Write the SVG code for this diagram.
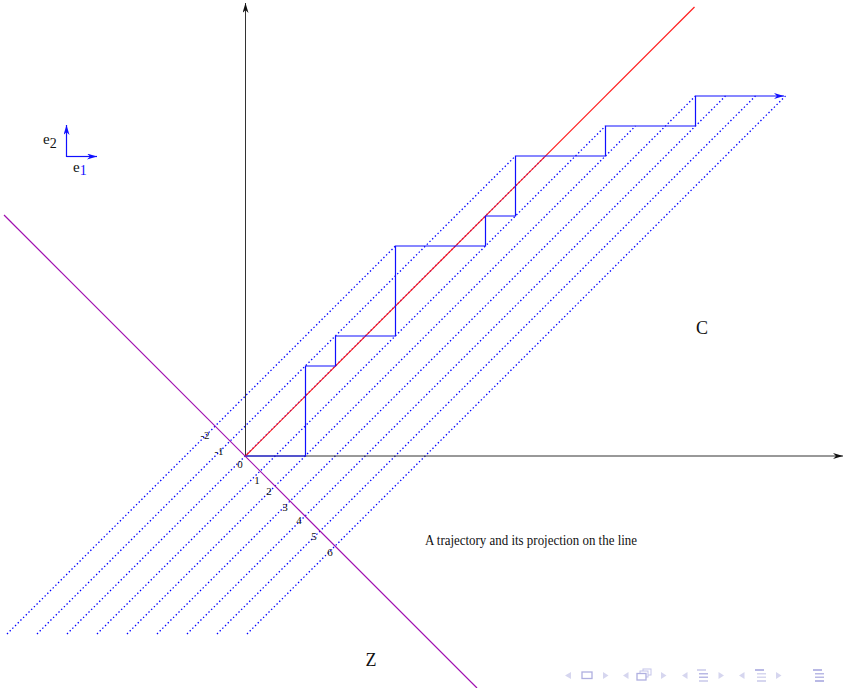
<svg xmlns="http://www.w3.org/2000/svg" width="846" height="688" viewBox="0 0 846 688">
<style>
.ax{stroke:#333;stroke-width:1;fill:none}
.dot{stroke:#0000ff;stroke-width:1.3;stroke-dasharray:1.4 2.4;fill:none}
.traj{stroke:#1010ff;stroke-width:1.2;fill:none}
.lbl{font-family:"Liberation Serif","Times New Roman",serif;font-size:11px;fill:#111}
.big{font-family:"Liberation Serif","Times New Roman",serif;font-size:18px;fill:#111}
.ev{font-family:"Liberation Serif","Times New Roman",serif;font-size:15px;fill:#111}
.navt{fill:#d6d6ef}
.navb{fill:#b9b9e5}
</style>
<defs>
<marker id="ak" viewBox="0 0 10 6" refX="10" refY="3" markerWidth="10" markerHeight="6" orient="auto" markerUnits="userSpaceOnUse"><path d="M0,0 L10,3 L0,6 L3,3 z" fill="#111"/></marker>
<marker id="ab" viewBox="0 0 10 6" refX="10" refY="3" markerWidth="10" markerHeight="6" orient="auto" markerUnits="userSpaceOnUse"><path d="M0,0 L10,3 L0,6 L3,3 z" fill="#1010ff"/></marker>
</defs>
<rect width="846" height="688" fill="#fff"/>
<g id="connectors">
<g id="projections">
<line class="dot" x1="7" y1="634" x2="395.5" y2="246"/>
<line class="dot" x1="37" y1="634" x2="515.5" y2="156"/>
<line class="dot" x1="67" y1="634" x2="545.5" y2="156"/>
<line class="dot" x1="97" y1="634" x2="605.5" y2="126"/>
<line class="dot" x1="127" y1="634" x2="635.5" y2="126"/>
<line class="dot" x1="157" y1="634" x2="695.5" y2="96"/>
<line class="dot" x1="187" y1="634" x2="725.5" y2="96"/>
<line class="dot" x1="217" y1="634" x2="755.5" y2="96"/>
<line class="dot" x1="247" y1="634" x2="785.5" y2="96"/>
</g>
<line id="axis-x" class="ax" x1="245.5" y1="456" x2="843" y2="456" marker-end="url(#ak)"/>
<line id="axis-y" class="ax" x1="245.5" y1="456" x2="245.5" y2="3" marker-end="url(#ak)"/>
<line id="line-z" x1="4" y1="215" x2="477" y2="688" stroke="#a010b0" stroke-width="1.2"/>
<line id="diagonal" x1="245.5" y1="456" x2="694.5" y2="7" stroke="#ff2020" stroke-width="1.2"/>
<path id="trajectory" class="traj" d="M245.5,456 H305.5 V366 H335.5 V336 H395.5 V246 H485.5 V216 H515.5 V156 H605.5 V126 H695.5 V96 H784" marker-end="url(#ab)"/>
</g>
<g id="legend">
<line x1="66.5" y1="157" x2="66.5" y2="125" stroke="#1010ff" stroke-width="1.2" marker-end="url(#ab)"/>
<line x1="66.5" y1="156.5" x2="97" y2="156.5" stroke="#1010ff" stroke-width="1.2" marker-end="url(#ab)"/>
<text class="ev" x="43" y="144">e<tspan font-size="14" dy="4">2</tspan></text>
<text class="ev" x="73" y="172">e<tspan font-size="14" dy="3" fill="#1010ff">1</tspan></text>
</g>
<g id="ticks">
<text class="lbl" x="205" y="439" text-anchor="middle">-2</text>
<text class="lbl" x="219" y="455" text-anchor="middle">-1</text>
<text class="lbl" x="240" y="468" text-anchor="middle">0</text>
<text class="lbl" x="257" y="484" text-anchor="middle">1</text>
<text class="lbl" x="269" y="495" text-anchor="middle">2</text>
<text class="lbl" x="285" y="511" text-anchor="middle">3</text>
<text class="lbl" x="299" y="524" text-anchor="middle">4</text>
<text class="lbl" x="314" y="540" text-anchor="middle">5</text>
<text class="lbl" x="330" y="556" text-anchor="middle">6</text>
</g>
<g id="label-c"><text class="big" x="702" y="334" text-anchor="middle">C</text></g>
<g id="label-z"><text class="big" x="371" y="666" text-anchor="middle">Z</text></g>
<g id="caption"><text x="425" y="544.5" font-family="'Liberation Serif','Times New Roman',serif" font-size="15" fill="#111" textLength="212" lengthAdjust="spacingAndGlyphs">A trajectory and its projection on the line</text></g>
<g id="nav">
<polygon class="navt" points="565,675.5 571,672 571,679"/>
<rect x="582" y="672" width="10" height="6.5" fill="none" stroke="#b0b0e0" stroke-width="1.3"/>
<polygon class="navt" points="603,672 608.5,675.5 603,679"/>
<polygon class="navt" points="623,675.5 628.5,672 628.5,679"/>
<rect x="643" y="669" width="8" height="6" fill="#fff" stroke="#c4c4ea" stroke-width="1"/>
<rect x="640" y="671" width="8" height="6" fill="#fff" stroke="#c4c4ea" stroke-width="1"/>
<rect x="637" y="673.5" width="9" height="6.5" fill="#fff" stroke="#b0b0e0" stroke-width="1.3"/>
<polygon class="navt" points="661,672 666.5,675.5 661,679"/>
<polygon class="navt" points="682,675.5 687.5,672 687.5,679"/>
<rect class="navt" x="697" y="669" width="9" height="2"/>
<rect class="navb" x="699" y="673" width="9" height="1.5"/>
<rect class="navb" x="699" y="676.5" width="9" height="1.5"/>
<rect class="navt" x="699" y="680" width="9" height="2"/>
<polygon class="navt" points="718.5,672 724,675.5 718.5,679"/>
<polygon class="navt" points="739,675.5 744.5,672 744.5,679"/>
<rect class="navb" x="755" y="669" width="9" height="2"/>
<rect class="navt" x="757" y="673" width="9" height="1.5"/>
<rect class="navt" x="757" y="676.5" width="9" height="1.5"/>
<rect class="navt" x="757" y="680" width="9" height="2"/>
<polygon class="navt" points="776,672 781.5,675.5 776,679"/>
<rect class="navb" x="813" y="669" width="9" height="2"/>
<rect class="navb" x="815" y="673" width="9" height="1.5"/>
<rect class="navb" x="815" y="676.5" width="9" height="1.5"/>
<rect class="navb" x="815" y="680" width="9" height="2"/>
</g>
</svg>
